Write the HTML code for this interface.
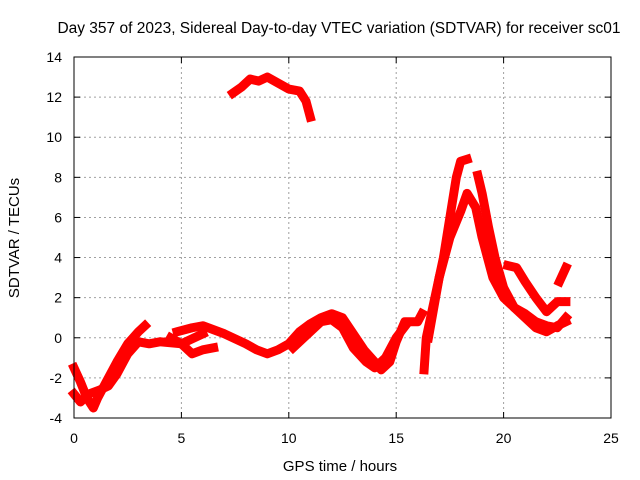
<!DOCTYPE html>
<html><head><meta charset="utf-8"><style>
body{margin:0;background:#fff;}
svg{display:block;font-family:"Liberation Sans",sans-serif;}
</style></head><body>
<svg id="chart" width="640" height="480" viewBox="0 0 640 480">
<rect width="640" height="480" fill="#fff"/>
<text x="339" y="33" font-size="15.5" text-anchor="middle">Day 357 of 2023, Sidereal Day-to-day VTEC variation (SDTVAR) for receiver sc01</text>
<text x="340" y="471" font-size="15" text-anchor="middle">GPS time / hours</text>
<text transform="translate(19,238) rotate(-90)" font-size="15" text-anchor="middle">SDTVAR / TECUs</text>
<g id="grid"></g><g id="ticks"></g><g id="series"></g>
<rect x="74" y="57" width="537" height="361" fill="none" stroke="#000" stroke-width="1"/>
</svg>
<script>
const xTicks=[0,5,10,15,20,25];
const yTicks=[-4,-2,0,2,4,6,8,10,12,14];
const trackA=[[0,-1.5],[0.3,-2.2],[0.6,-3.0],[0.9,-3.5],[1.1,-3.0],[1.5,-2.2],[2,-1.2],[2.5,-0.3],[3,0.3],[3.3,0.6]];
const trackB=[[0,-2.8],[0.3,-3.2],[0.7,-2.8],[1.2,-2.6],[1.6,-2.4],[2,-1.8],[2.5,-0.8],[3,-0.2],[3.5,-0.3],[4,-0.2],[5,-0.3],[6,0.2]];
const trackC=[[4.8,0.3],[5.5,0.5],[6,0.6],[7,0.2],[8,-0.3],[8.5,-0.6],[9,-0.8],[9.5,-0.6],[10,-0.3],[10.5,0.3],[11,0.7],[11.5,1.0],[12,1.2],[12.5,1.0],[13,0.2],[13.5,-0.6],[14,-1.2],[14.3,-1.6],[14.7,-1.2],[15,-0.2],[15.4,0.8],[16,0.8],[16.2,1.2]];
const trackD=[[4.5,0],[5,-0.3],[5.5,-0.8],[6,-0.6],[6.5,-0.5]];
const trackE=[[10.2,-0.5],[11,0.3],[11.5,0.8],[12,0.9],[12.5,0.5],[13,-0.5],[13.6,-1.2],[14,-1.5],[14.5,-1.0],[15,0],[15.5,0.7]];
const trackF=[[16.3,-1.6],[16.4,0],[16.8,2],[17.2,4],[17.5,6],[17.8,8],[18,8.8],[18.3,8.9]];
const trackG=[[16.5,0],[17,3],[17.5,5],[18,6.3],[18.3,7.2],[18.7,6.5],[19,5],[19.5,3],[20,2],[20.5,1.5],[21,1.2],[21.5,0.8],[22,0.6],[22.5,0.5],[22.9,1.0]];
const trackH=[[18.8,8.1],[19,7.2],[19.3,5.5],[19.6,4],[20,2.5],[20.5,1.5],[21,1.0],[21.5,0.5],[22,0.3],[22.5,0.6],[22.9,0.8]];
const trackI=[[20.2,3.6],[20.6,3.5],[21,2.8],[21.5,2.0],[22,1.3],[22.5,1.8],[22.9,1.8]];
const trackJ=[[22.6,2.8],[22.9,3.5]];
const trackK=[[7.4,12.2],[7.8,12.5],[8.2,12.9],[8.6,12.8],[9,13.0],[9.5,12.7],[10,12.4],[10.5,12.3],[10.8,11.8],[11,11.0]];
const tracks=[trackA,trackB,trackC,trackD,trackE,trackF,trackG,trackH,trackI,trackJ,trackK];
const NS="http://www.w3.org/2000/svg";
const X=h=>74+h*(537/25), Y=v=>418-(v+4)*(361/18);
const grid=document.getElementById('grid'),ticks=document.getElementById('ticks'),series=document.getElementById('series');
function mk(t,a,p){const e=document.createElementNS(NS,t);for(const k in a)e.setAttribute(k,a[k]);p.appendChild(e);return e;}
xTicks.forEach(t=>{const x=X(t);
 if(t>0&&t<25){const l=mk('line',{x1:x,x2:x,y1:57,y2:418,stroke:'#a0a0a0','stroke-dasharray':'2,3'},grid);
 
 }
 mk('line',{x1:x,x2:x,y1:418,y2:412,stroke:'#000'},ticks);mk('line',{x1:x,x2:x,y1:57,y2:63,stroke:'#000'},ticks);
 const tx=mk('text',{x:x,y:443,'font-size':14,'text-anchor':'middle'},ticks);tx.textContent=t;
 
 });
yTicks.forEach(t=>{const y=Y(t);
 if(t>-4&&t<14){const l=mk('line',{x1:74,x2:611,y1:y,y2:y,stroke:'#a0a0a0','stroke-dasharray':'2,3'},grid);
 
 }
 mk('line',{x1:74,x2:80,y1:y,y2:y,stroke:'#000'},ticks);mk('line',{x1:611,x2:605,y1:y,y2:y,stroke:'#000'},ticks);
 const tx=mk('text',{x:62,y:y+5,'font-size':14,'text-anchor':'end'},ticks);tx.textContent=t;
 
 });
tracks.forEach((tr,i)=>{
 const p=mk('polyline',{points:tr.map(d=>X(d[0])+','+Y(d[1])).join(' '),fill:'none',stroke:'#ff0000','stroke-width':9,'stroke-linejoin':'round','stroke-linecap':'square'},series);
 
 
});
</script>
</body></html>
